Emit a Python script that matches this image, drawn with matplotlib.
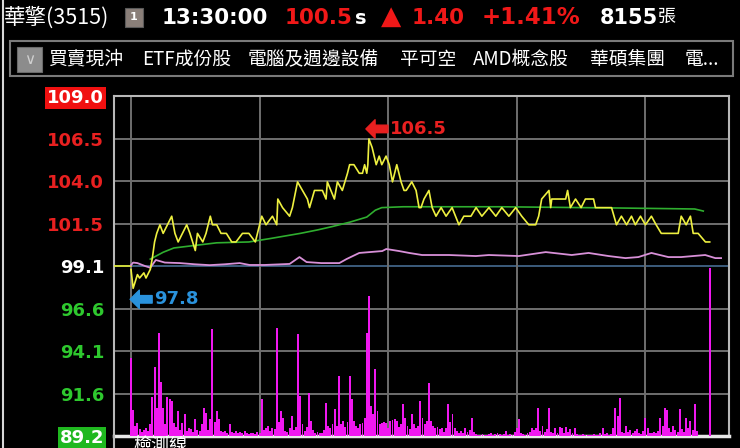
import matplotlib
matplotlib.use("Agg")
import matplotlib.pyplot as plt
from matplotlib.transforms import offset_copy
from matplotlib.patches import Rectangle
from matplotlib.lines import Line2D
import numpy as np

# ---------------- data ----------------
stock_name = "華擎(3515)"
quote_time = "13:30:00"
last_price = "100.5"
change = "1.40"
change_pct = "+1.41%"
total_volume = "8155"
tags = ["買賣現沖", "ETF成份股", "電腦及週邊設備", "平可空", "AMD概念股", "華碩集團", "電..."]

prev_close = 99.1
tick_values = [89.2, 91.675, 94.15, 96.625, 99.1, 101.575, 104.05, 106.525, 109.0]
tick_labels = ["89.2", "91.6", "94.1", "96.6", "99.1", "101.5", "104.0", "106.5", "109.0"]
hour_marks = [0, 60, 120, 180, 240]   # minutes after 09:00

# last-trade price (minutes after 09:00)
price_t = [0, 1, 3, 4, 6, 7, 9, 10, 11, 12,
           13.5, 15, 17, 19, 20.5, 22, 24, 26, 27.5, 30,
           31, 33.5, 35, 37, 38, 40, 42, 44.5, 47, 49,
           52, 55, 58, 61, 63, 66, 68, 68.5, 70.7, 74,
           75.3, 77.7, 80, 82.3, 83.3, 85.6, 89.3, 91, 91.6, 94.9,
           96.3, 98.6, 101, 102, 104, 106.5, 108, 109, 110, 110.5,
           111, 112.5, 114.4, 115.8, 117, 119, 120.5, 122, 124, 126,
           127.4, 128.4, 131, 133, 134.4, 135.3, 136.7, 139, 140.5, 142.3,
           144.7, 147, 149.8, 153, 155.3, 158.6, 161, 163.7, 167, 170.2,
           173, 176.3, 179.5, 182.3, 185.6, 188.8, 190.2, 191.6, 195, 195.8,
           196.3, 202.8, 203.7, 205, 207.4, 210, 212, 215.8, 216.7, 222.8,
           224.2, 226.5, 228.8, 231.2, 233.5, 235.3, 237.7, 240, 242.8, 245,
           247.4, 255.3, 256.7, 259, 261, 262.3, 264.6, 268, 270]
price_p = [98.9, 97.8, 98.6, 98.4, 98.7, 98.4, 98.9, 99.6, 100.5, 101.0,
           101.5, 101.0, 101.5, 102.0, 101.0, 100.5, 101.0, 101.5, 101.0, 100.0,
           101.0, 100.5, 101.0, 102.0, 101.5, 101.5, 101.0, 101.0, 100.5, 100.5,
           101.0, 101.0, 100.5, 102.0, 101.5, 102.0, 101.5, 103.0, 102.5, 102.0,
           102.5, 104.0, 103.5, 103.0, 102.5, 103.5, 103.5, 103.0, 104.0, 103.0,
           104.0, 103.5, 104.5, 105.0, 105.0, 104.5, 104.5, 105.0, 104.5, 105.0,
           106.5, 106.0, 105.0, 105.5, 105.0, 105.5, 105.0, 104.0, 105.0, 104.0,
           103.5, 103.5, 104.0, 103.5, 102.5, 102.5, 103.0, 103.5, 102.5, 102.0,
           102.5, 102.0, 102.5, 101.5, 102.0, 102.0, 102.5, 102.0, 102.5, 102.0,
           102.5, 102.0, 102.5, 102.0, 101.5, 101.5, 102.0, 103.0, 103.5, 102.5,
           103.0, 103.0, 103.5, 102.5, 103.0, 102.5, 103.0, 103.0, 102.5, 102.5,
           102.5, 101.5, 102.0, 101.5, 102.0, 101.5, 102.0, 101.5, 102.0, 101.5,
           101.0, 101.0, 102.0, 101.5, 102.0, 101.0, 101.0, 100.5, 100.5]

# average price (green)
avg_t = [9, 12, 15, 20, 30, 40, 55, 65, 79, 87, 94, 102, 110, 114, 117, 127, 172, 226, 263, 267]
avg_p = [99.5, 99.7, 99.9, 100.15, 100.3, 100.45, 100.5, 100.7, 101.0, 101.2,
         101.4, 101.65, 101.95, 102.35, 102.5, 102.55, 102.55, 102.48, 102.42, 102.3]

# reference index line (pink)
idx_t = [0, 1, 3, 6.5, 9, 11.6, 15.8, 22.8, 29.8, 36.7,
         43.7, 50.7, 55.3, 62.3, 74, 78.6, 81.9, 88.8, 97.2, 100.5,
         106.5, 117.2, 119.1, 125.1, 129.8, 135.8, 148.4, 160.9, 167, 180.9,
         193.5, 205.6, 213.5, 222.8, 230.7, 236.7, 242.8, 250.7, 256.7, 267.9,
         272.6, 275.3]
idx_p = [99.15, 99.3, 99.27, 99.1, 99.0, 99.45, 99.3, 99.27, 99.2, 99.15,
         99.2, 99.27, 99.16, 99.16, 99.22, 99.62, 99.33, 99.27, 99.27, 99.5,
         99.86, 99.97, 100.09, 99.97, 99.86, 99.74, 99.74, 99.68, 99.74, 99.68,
         99.91, 99.74, 99.86, 99.68, 99.56, 99.62, 99.86, 99.62, 99.62, 99.74,
         99.56, 99.56]

# per-minute volume (minute 0 .. 270)
volume = [78, 26, 10, 13, 7, 4, 6, 8, 5, 12,
          39, 69, 28, 103, 54, 28, 12, 39, 37, 35,
          13, 9, 25, 6, 13, 22, 5, 8, 7, 4,
          17, 6, 5, 12, 28, 23, 6, 17, 107, 14,
          25, 17, 5, 4, 5, 3, 12, 4, 3, 5,
          3, 4, 3, 5, 3, 2, 3, 3, 2, 4,
          3, 37, 6, 8, 10, 5, 8, 7, 108, 14,
          25, 18, 5, 4, 8, 20, 6, 9, 102, 40,
          12, 5, 9, 43, 15, 6, 3, 4, 3, 3,
          6, 33, 10, 8, 12, 27, 10, 60, 12, 15,
          9, 14, 60, 37, 15, 10, 8, 12, 13, 18,
          103, 140, 30, 22, 67, 25, 12, 13, 14, 13,
          8, 15, 16, 17, 15, 9, 12, 32, 18, 10,
          7, 22, 12, 8, 10, 35, 18, 12, 15, 53,
          15, 10, 8, 9, 7, 8, 4, 8, 32, 14,
          22, 8, 5, 3, 5, 3, 8, 4, 6, 18,
          4, 2, 1, 1, 2, 1, 1, 2, 3, 1,
          2, 3, 2, 1, 2, 5, 1, 2, 1, 4,
          8, 17, 3, 2, 1, 3, 4, 8, 6, 8,
          28, 5, 10, 4, 7, 28, 4, 3, 8, 3,
          9, 8, 3, 9, 4, 7, 3, 8, 2, 1,
          1, 2, 1, 1, 1, 1, 2, 1, 1, 3,
          8, 2, 3, 1, 2, 8, 28, 20, 38, 4,
          3, 10, 4, 6, 3, 5, 7, 3, 2, 5,
          18, 8, 3, 3, 4, 3, 5, 18, 10, 28,
          26, 8, 4, 10, 6, 4, 27, 7, 4, 18,
          8, 15, 6, 32, 5, 0, 0, 0, 0, 0,
          168]
vol_t = list(range(len(volume)))

# ---------------- figure ----------------
W, H = 740, 448
fig = plt.figure(figsize=(W / 100, H / 100), dpi=100, facecolor="black")
CJK = ["Noto Sans CJK TC", "DejaVu Sans"]


def fx(x):
    return x / W


def fy(y):
    return 1 - y / H


# window frame lines
fig.add_artist(Line2D([fx(3), fx(3)], [0, 1], color="#d8d8d8", lw=1.5))

# header row 1
fig.text(fx(4), fy(18), stock_name, color="white", fontsize=15.5, family=CJK, va="center", ha="left")
fig.add_artist(Rectangle((fx(125), fy(27)), 18 / W, 19 / H, transform=fig.transFigure,
                         facecolor="#8a7f79", edgecolor="#5a5a5a", lw=0.8))
fig.text(fx(134), fy(17.5), "1", color="white", fontsize=8, weight="bold", ha="center", va="center")
fig.text(fx(162), fy(18), quote_time, color="white", fontsize=15.5, weight="bold", va="center")
fig.text(fx(285), fy(18), last_price, color="#f01818", fontsize=15.5, weight="bold", va="center")
fig.text(fx(355), fy(19), "s", color="white", fontsize=14, weight="bold", va="center")
fig.text(fx(381), fy(17), "▲", color="#f01818", fontsize=19, va="center")
fig.text(fx(412), fy(18), change, color="#f01818", fontsize=15.5, weight="bold", va="center")
fig.text(fx(482), fy(18), change_pct, color="#f01818", fontsize=16.5, weight="bold", va="center")
fig.text(fx(600), fy(18), total_volume, color="white", fontsize=15, weight="bold", va="center")
fig.text(fx(658), fy(17), "張", color="white", fontsize=13, family=CJK, va="center")

# header row 2
fig.add_artist(Rectangle((fx(10), fy(76)), 723 / W, 35 / H, transform=fig.transFigure,
                         facecolor="none", edgecolor="#7a7a7a", lw=1.5))
fig.add_artist(Rectangle((fx(17), fy(72)), 25 / W, 25 / H, transform=fig.transFigure,
                         facecolor="#8c8c8c", edgecolor="#6a6a6a", lw=0.8))
fig.text(fx(29.5), fy(60), "∨", color="#d0d0d0", fontsize=11, ha="center", va="center")
tag_x = [48, 142, 248, 400, 473, 590, 685]
for t, x in zip(tags, tag_x):
    fig.text(fx(x), fy(59), t, color="white", fontsize=13.5, family=CJK, va="center")

# ---------------- chart ----------------
ax = fig.add_axes([fx(114), 12 / H, 615 / W, 340 / H])
ax.set_facecolor("black")
ax.set_xlim(-7.93, 279)
ax.set_ylim(tick_values[0], tick_values[-1])
ax.set_xticks([])
ax.set_yticks(tick_values)
ax.set_yticklabels(tick_labels)
ax.tick_params(axis="y", length=0, pad=7, labelsize=13)
label_colors = ["white", "#2ec82e", "#2ec82e", "#2ec82e", "white", "#e82020", "#e82020", "#e82020", "white"]
for lab, c in zip(ax.get_yticklabels(), label_colors):
    lab.set_color(c)
    lab.set_fontweight("bold")
ylabs = ax.get_yticklabels()
ylabs[0].set_bbox(dict(boxstyle="square,pad=0.12", fc="#1fb81f", ec="none"))
ylabs[-1].set_bbox(dict(boxstyle="square,pad=0.12", fc="#f01010", ec="none"))

for s in ["top", "left", "right"]:
    ax.spines[s].set_color("#b8b8b8")
    ax.spines[s].set_linewidth(1.5)
ax.spines["bottom"].set_color("#e8e8e8")
ax.spines["bottom"].set_linewidth(2.5)

for v in tick_values[1:-1]:
    col = "#3c5c7c" if v == prev_close else "#6e6e6e"
    ax.axhline(v, color=col, lw=1.4, zorder=0)
for t in hour_marks:
    ax.axvline(t, color="#6e6e6e", lw=1.4, zorder=0)

# extension lines below chart
fig.add_artist(Line2D([fx(114), fx(114)], [0, fy(436)], color="#b8b8b8", lw=1.5))
fig.text(fx(133), fy(437), "檢測線", color="white", fontsize=13, family=CJK, va="top")

# volume bars
axv = ax.twinx()
axv.set_ylim(0, 340)
axv.set_xlim(ax.get_xlim())
axv.bar(vol_t, volume, width=0.9, color="#f018f0", edgecolor="none")
axv.set_axis_off()

# price lines
axp = ax.twinx()
axp.set_ylim(ax.get_ylim())
axp.set_xlim(ax.get_xlim())
axp.set_axis_off()
axp.plot([ax.get_xlim()[0], 0], [prev_close, prev_close], color="#e8ee30", lw=1.2)
axp.plot(idx_t, idx_p, color="#d890d8", lw=1.3)
axp.plot(avg_t, avg_p, color="#2fae2f", lw=1.2)
axp.plot(price_t, price_p, color="#eef040", lw=1.2)

# high / low annotations
i_hi = int(np.argmax(price_p))
i_lo = int(np.argmin(price_p))
arrow_style = "simple,head_length=0.55,head_width=1.1,tail_width=0.45"
for idx, dy, col in [(i_hi, 10, "#e82020"), (i_lo, -11, "#2a92dc")]:
    pt = (price_t[idx], price_p[idx])
    tip = offset_copy(axp.transData, fig=fig, x=-3, y=dy, units="dots")
    tail = offset_copy(axp.transData, fig=fig, x=19, y=dy, units="dots")
    axp.annotate("", xy=pt, xycoords=tip, xytext=pt, textcoords=tail,
                 arrowprops=dict(arrowstyle=arrow_style, color=col, mutation_scale=12,
                                 shrinkA=0, shrinkB=0))
    txt = offset_copy(axp.transData, fig=fig, x=21, y=dy, units="dots")
    axp.text(pt[0], pt[1], f"{price_p[idx]:.1f}", transform=txt, color=col,
             fontsize=13, weight="bold", ha="left", va="center")

fig.savefig("out.png", dpi=100, facecolor="black")
